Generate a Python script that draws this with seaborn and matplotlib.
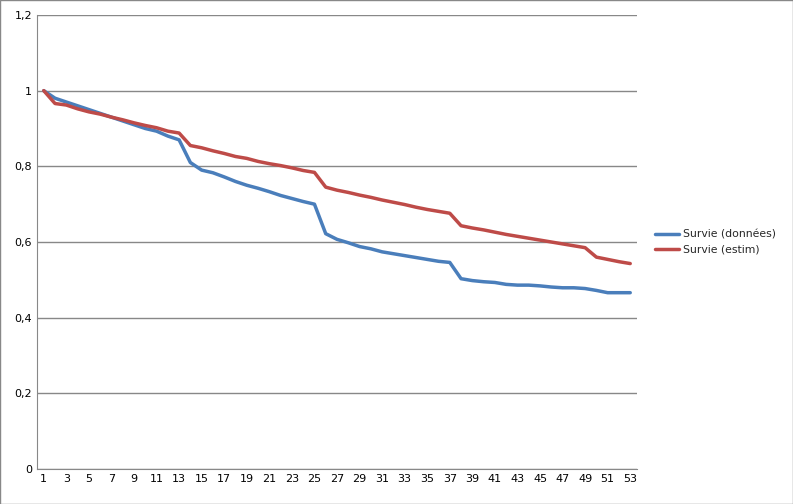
import matplotlib
matplotlib.use('Agg')
import matplotlib.pyplot as plt
import seaborn as sns
import pandas as pd

sns.set_style('white')
plt.rcParams['font.family'] = ['DejaVu Sans']

periods = list(range(1, 54))
survie_donnees = [1.0, 0.98, 0.97, 0.96, 0.95, 0.94, 0.93, 0.92, 0.91, 0.90, 0.893, 0.88, 0.87,
                  0.81, 0.79, 0.783, 0.772, 0.76, 0.75, 0.742, 0.733, 0.723, 0.715, 0.707, 0.70,
                  0.622, 0.607, 0.598, 0.588, 0.582, 0.574, 0.569, 0.564, 0.559, 0.554, 0.549, 0.546,
                  0.503, 0.498, 0.495, 0.493, 0.488, 0.486, 0.486, 0.484, 0.481, 0.479, 0.479, 0.477,
                  0.472, 0.466, 0.466, 0.466]
survie_estim = [1.0, 0.966, 0.962, 0.952, 0.944, 0.938, 0.93, 0.923, 0.915, 0.908, 0.902, 0.893, 0.888,
                0.855, 0.849, 0.841, 0.834, 0.826, 0.821, 0.813, 0.807, 0.802, 0.796, 0.789, 0.784,
                0.745, 0.737, 0.731, 0.724, 0.718, 0.711, 0.705, 0.699, 0.692, 0.686, 0.681, 0.676,
                0.643, 0.637, 0.632, 0.626, 0.62, 0.615, 0.61, 0.605, 0.6, 0.595, 0.59, 0.585,
                0.56, 0.554, 0.548, 0.543]

df = pd.DataFrame({'periode': periods * 2,
                   'valeur': survie_donnees + survie_estim,
                   'serie': ['Survie (données)'] * 53 + ['Survie (estim)'] * 53})

fig = plt.figure(figsize=(7.93, 5.04), dpi=100)
ax = fig.add_axes([37/793, 35/504, 600/793, 454/504])
sns.lineplot(data=df, x='periode', y='valeur', hue='serie',
             palette=['#4a7ebb', '#be4b48'], linewidth=2.5, ax=ax)

ax.set_xlim(0.4, 53.6)
ax.set_ylim(0, 1.2)
ax.set_yticks([0, 0.2, 0.4, 0.6, 0.8, 1.0, 1.2])
ax.set_yticklabels(['0', '0,2', '0,4', '0,6', '0,8', '1', '1,2'])
ax.set_xticks(periods[::2])
ax.grid(axis='y', color='#888888', linewidth=1)
ax.set_axisbelow(True)
for s in ['top', 'right']:
    ax.spines[s].set_visible(False)
for s in ['left', 'bottom']:
    ax.spines[s].set_color('#888888')
ax.tick_params(labelsize=8, length=0, colors='black')
ax.set_xlabel('')
ax.set_ylabel('')
ax.legend(loc='center left', bbox_to_anchor=(1.03, 0.5), frameon=False, fontsize=7.8,
          handlelength=2.2, handletextpad=0.4, borderaxespad=0, borderpad=0)

fig.patches.append(plt.Rectangle((0, 0), 1, 1, transform=fig.transFigure, fill=False,
                                 edgecolor='#888888', linewidth=1))
fig.savefig('out.png', dpi=100)
